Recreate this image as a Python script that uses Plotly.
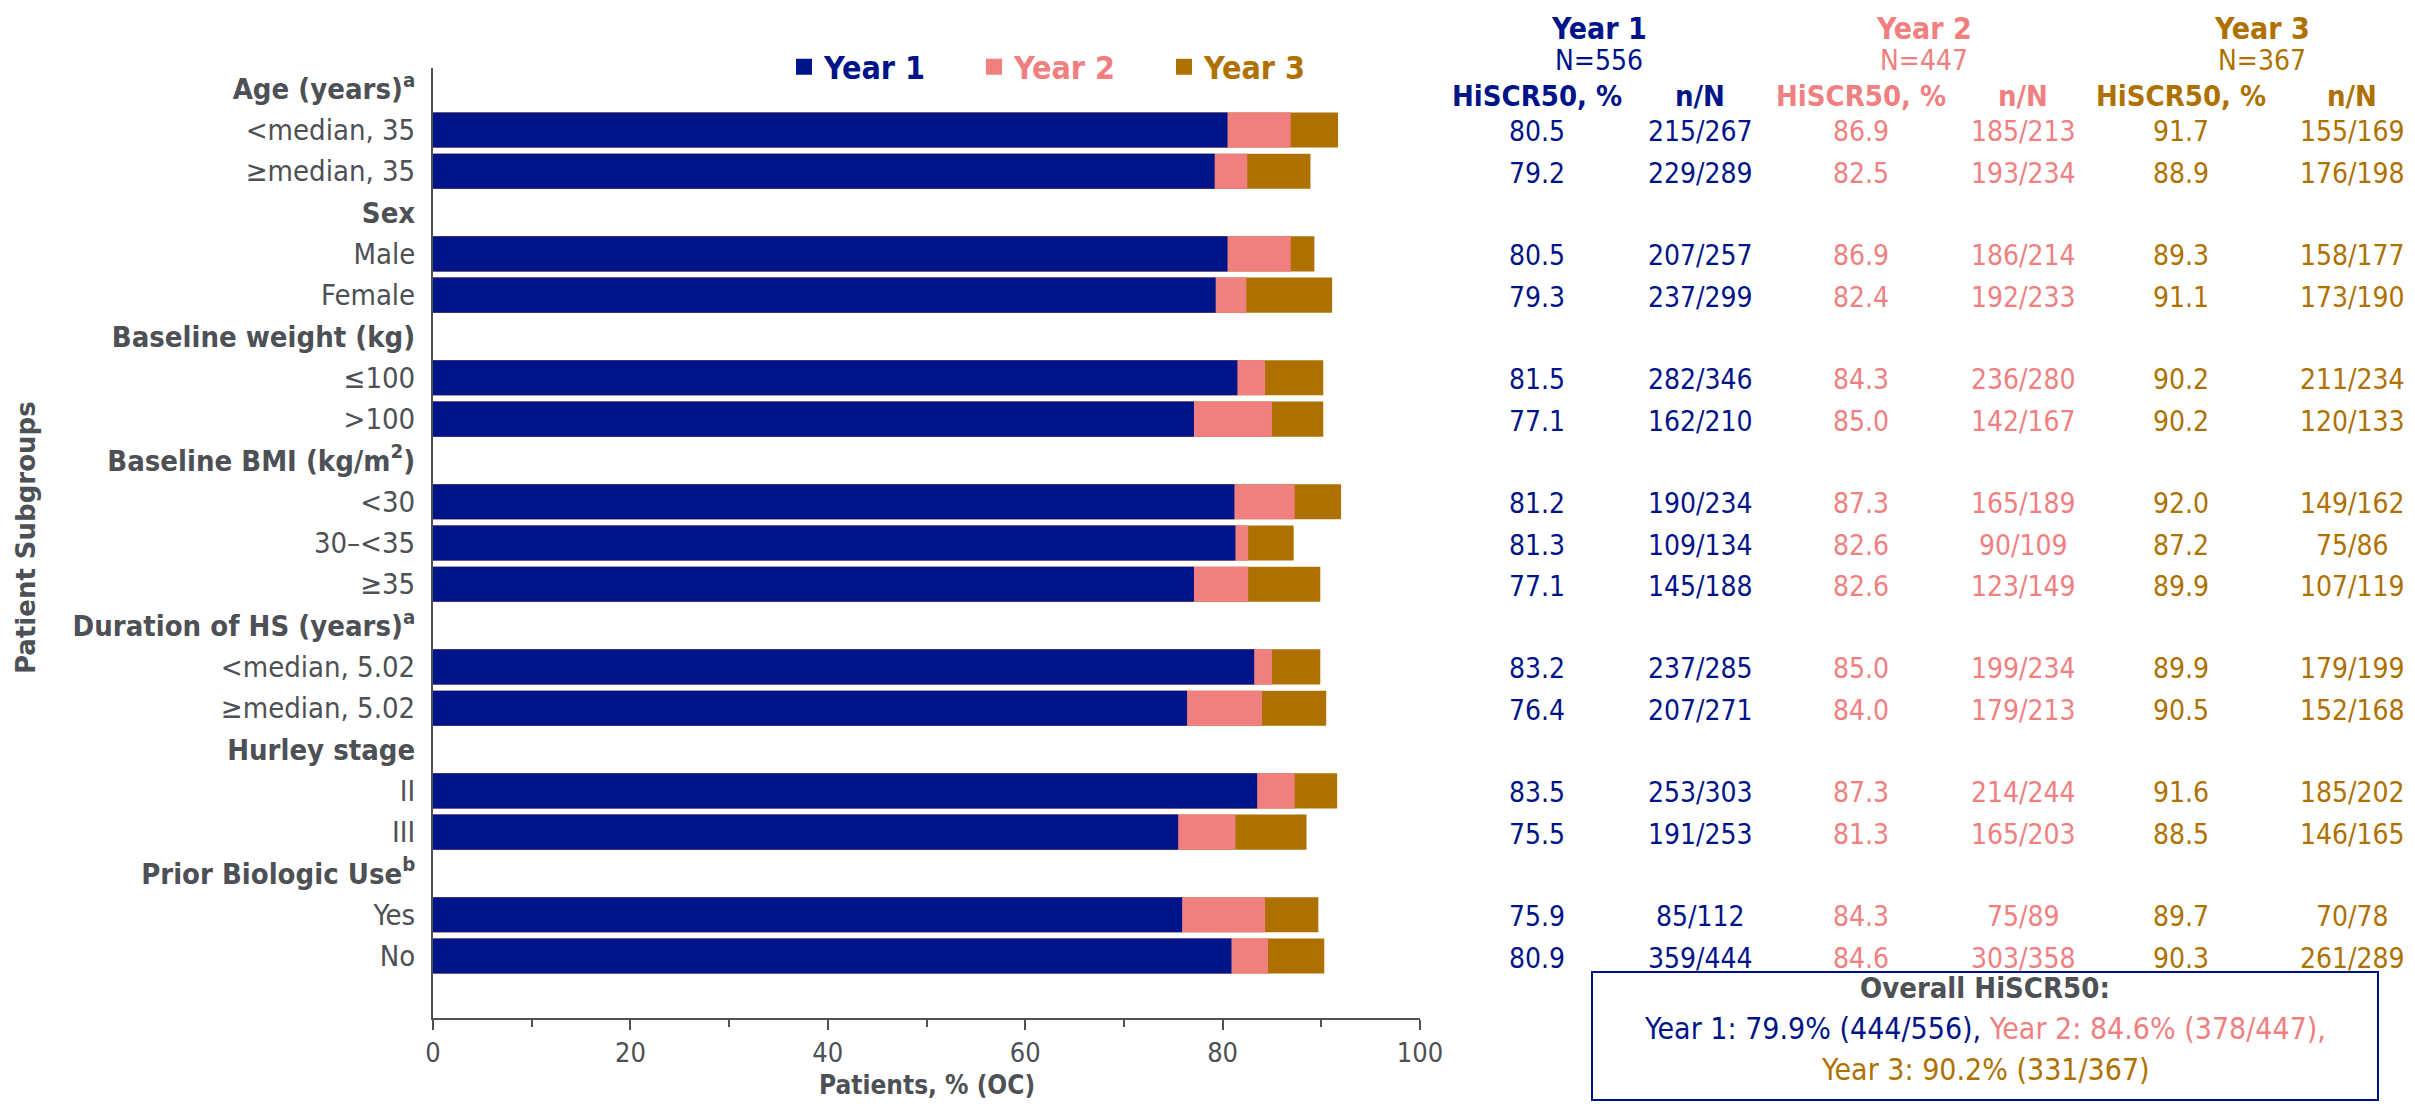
import plotly.graph_objects as go

# ---------------- data ----------------
labels = [
    "<b>Age (years)<sup>a</sup></b>", "&lt;median, 35", "≥median, 35",
    "<b>Sex</b>", "Male", "Female",
    "<b>Baseline weight (kg)</b>", "≤100", "&gt;100",
    "<b>Baseline BMI (kg/m<sup>2</sup>)</b>", "&lt;30", "30–&lt;35", "≥35",
    "<b>Duration of HS (years)<sup>a</sup></b>", "&lt;median, 5.02", "≥median, 5.02",
    "<b>Hurley stage</b>", "II", "III",
    "<b>Prior Biologic Use<sup>b</sup></b>", "Yes", "No",
]
year1_pct = [None, 80.5, 79.2, None, 80.5, 79.3, None, 81.5, 77.1, None, 81.2, 81.3, 77.1,
             None, 83.2, 76.4, None, 83.5, 75.5, None, 75.9, 80.9]
year2_pct = [None, 86.9, 82.5, None, 86.9, 82.4, None, 84.3, 85.0, None, 87.3, 82.6, 82.6,
             None, 85.0, 84.0, None, 87.3, 81.3, None, 84.3, 84.6]
year3_pct = [None, 91.7, 88.9, None, 89.3, 91.1, None, 90.2, 90.2, None, 92.0, 87.2, 89.9,
             None, 89.9, 90.5, None, 91.6, 88.5, None, 89.7, 90.3]
year1_nN = [None, "215/267", "229/289", None, "207/257", "237/299", None, "282/346", "162/210",
            None, "190/234", "109/134", "145/188", None, "237/285", "207/271", None,
            "253/303", "191/253", None, "85/112", "359/444"]
year2_nN = [None, "185/213", "193/234", None, "186/214", "192/233", None, "236/280", "142/167",
            None, "165/189", "90/109", "123/149", None, "199/234", "179/213", None,
            "214/244", "165/203", None, "75/89", "303/358"]
year3_nN = [None, "155/169", "176/198", None, "158/177", "173/190", None, "211/234", "120/133",
            None, "149/162", "75/86", "107/119", None, "179/199", "152/168", None,
            "185/202", "146/165", None, "70/78", "261/289"]
years = ["Year 1", "Year 2", "Year 3"]
year_N = ["N=556", "N=447", "N=367"]
overall = ["Year 1: 79.9% (444/556),", "Year 2: 84.6% (378/447),", "Year 3: 90.2% (331/367)"]
x_title = "Patients, % (OC)"
y_title = "Patient Subgroups"

# ---------------- style ----------------
NAVY, SALMON, GOLD = "#001489", "#F08080", "#AE7100"
GRAY = "#4D5055"
FONT = "Tahoma, 'DejaVu Sans Condensed', 'Noto Sans', 'DejaVu Sans', sans-serif"
# page body adds an 8px margin, so the figure is 16px smaller than the window
W_FIG, H_FIG = 2399, 1094
L, R_EDGE, T, B_EDGE = 425, 1412, 60, 1010
PW, PH = R_EDGE - L, B_EDGE - T


def px(x):
    return (x - L) / PW


def py(y):
    return 1 - (y - T) / PH


colors = [NAVY, SALMON, GOLD]
pcts = [year1_pct, year2_pct, year3_pct]
nNs = [year1_nN, year2_nN, year3_nN]
idx = list(range(len(labels)))

fig = go.Figure()
# draw Year 3 at back, Year 1 at front
for k in [2, 1, 0]:
    fig.add_trace(go.Bar(
        y=idx, x=pcts[k], orientation="h", width=0.85,
        marker=dict(color=colors[k], line=dict(width=0)),
        showlegend=False, name=years[k], hoverinfo="x+name",
    ))
# legend proxies
for k in range(3):
    fig.add_trace(go.Scatter(
        x=[None], y=[None], mode="markers",
        marker=dict(symbol="square", size=18, color=colors[k]),
        name=f"<b><span style='color:{colors[k]}'>{years[k]}</span></b>",
        showlegend=True,
    ))

ann = []
# table columns
pct_x = [1529, 1853, 2173]
nN_x = [1692, 2015, 2344]
title_x = [1591, 1916, 2254]
for k in range(3):
    c = colors[k]
    ann.append(dict(x=px(title_x[k]), y=py(20), xref="paper", yref="paper",
                    text=f"<b>{years[k]}</b>", showarrow=False,
                    font=dict(size=30, color=c), xanchor="center", yanchor="middle"))
    ann.append(dict(x=px(title_x[k]), y=py(52), xref="paper", yref="paper",
                    text=year_N[k], showarrow=False,
                    font=dict(size=28, color=c), xanchor="center", yanchor="middle"))
    ann.append(dict(x=px(pct_x[k]), y=py(88), xref="paper", yref="paper",
                    text="<b>HiSCR50, %</b>", showarrow=False,
                    font=dict(size=29, color=c), xanchor="center", yanchor="middle"))
    ann.append(dict(x=px(nN_x[k]), y=py(88), xref="paper", yref="paper",
                    text="<b>n/N</b>", showarrow=False,
                    font=dict(size=29, color=c), xanchor="center", yanchor="middle"))
    for i in idx:
        if pcts[k][i] is None:
            continue
        ann.append(dict(x=px(pct_x[k]), y=i, xref="paper", yref="y",
                        text=f"{pcts[k][i]:.1f}", showarrow=False, yshift=-2,
                        font=dict(size=28, color=c), xanchor="center", yanchor="middle"))
        ann.append(dict(x=px(nN_x[k]), y=i, xref="paper", yref="y",
                        text=nNs[k][i], showarrow=False, yshift=-2,
                        font=dict(size=28, color=c), xanchor="center", yanchor="middle"))

# overall box
BOX_X0, BOX_X1, BOX_Y0, BOX_Y1 = 1584, 2370, 964, 1092
cx = (BOX_X0 + BOX_X1) / 2
ann.append(dict(x=px(cx), y=py(980), xref="paper", yref="paper",
                text="<b>Overall HiSCR50:</b>", showarrow=False,
                font=dict(size=29, color=GRAY), xanchor="center", yanchor="middle"))
ann.append(dict(x=px(cx), y=py(1020), xref="paper", yref="paper",
                text=f"<span style='color:{NAVY}'>{overall[0]}</span> "
                     f"<span style='color:{SALMON}'>{overall[1]}</span>",
                showarrow=False, font=dict(size=30, color=NAVY),
                xanchor="center", yanchor="middle"))
ann.append(dict(x=px(cx), y=py(1061), xref="paper", yref="paper",
                text=overall[2], showarrow=False,
                font=dict(size=30, color=GOLD), xanchor="center", yanchor="middle"))
# axis titles
ann.append(dict(x=px(18), y=py(530), xref="paper", yref="paper",
                text=f"<b>{y_title}</b>", showarrow=False, textangle=-90,
                font=dict(size=26, color=GRAY, family="'DejaVu Sans', Verdana, sans-serif"),
                xanchor="center", yanchor="middle"))
ann.append(dict(x=0.5, y=py(1094), xref="paper", yref="paper",
                text=f"<b>{x_title}</b>", showarrow=False,
                font=dict(size=26, color=GRAY), xanchor="center", yanchor="bottom"))

shapes = [dict(type="rect", xref="paper", yref="paper",
               x0=px(BOX_X0), x1=px(BOX_X1), y0=py(BOX_Y1), y1=py(BOX_Y0),
               line=dict(color=NAVY, width=2), fillcolor="rgba(0,0,0,0)")]

fig.update_layout(
    width=W_FIG, height=H_FIG,
    margin=dict(l=L, r=W_FIG - R_EDGE, t=T, b=H_FIG - B_EDGE, pad=0, autoexpand=False),
    paper_bgcolor="white", plot_bgcolor="white",
    barmode="overlay",
    font=dict(family=FONT, size=29, color=GRAY),
    annotations=ann, shapes=shapes,
    legend=dict(orientation="h", x=px(776), y=py(59), xanchor="left", yanchor="middle",
                entrywidth=145, entrywidthmode="pixels", itemsizing="trace",
                font=dict(size=32), bgcolor="rgba(0,0,0,0)", borderwidth=0),
    xaxis=dict(range=[0, 100], dtick=20, tick0=0, ticks="outside", ticklen=10,
               tickwidth=2, tickcolor=GRAY, showline=True, linecolor=GRAY, linewidth=2,
               showgrid=False, zeroline=False, tickfont=dict(size=27, color=GRAY),
               ticklabelstandoff=0, automargin=False,
               minor=dict(dtick=10, tick0=0, ticks="outside", ticklen=7, tickwidth=2,
                          tickcolor=GRAY, showgrid=False)),
    yaxis=dict(range=[22.5, -0.5], tickvals=idx, ticktext=labels, ticks="",
               showline=True, linecolor=GRAY, linewidth=2, showgrid=False, zeroline=False,
               ticklabelstandoff=10, tickfont=dict(size=29, color=GRAY), automargin=False),
)

fig.write_html("out.html")
